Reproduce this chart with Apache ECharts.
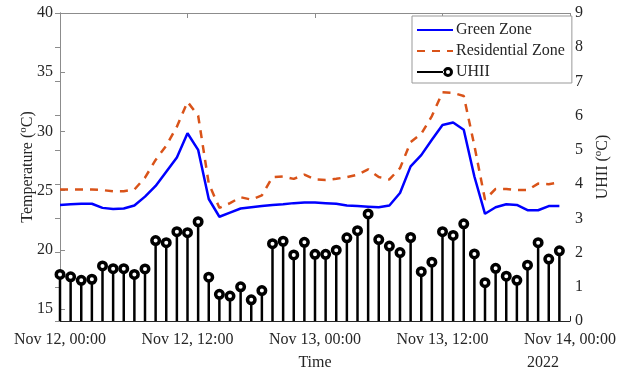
<!DOCTYPE html>
<html>
<head>
<meta charset="utf-8">
<script src="https://cdn.jsdelivr.net/npm/echarts@6/dist/echarts.min.js"></script>
<style>html,body{margin:0;padding:0;background:#fff;}#c{width:627px;height:369px;}</style>
</head>
<body>
<div id="c"></div>
<script>
// Hours from Nov 12, 00:00 (hourly samples)
const hours = Array.from({length: 48}, (_, i) => i);
const greenZone = [23.8,23.85,23.9,23.9,23.55,23.45,23.5,23.75,24.5,25.4,26.6,27.8,29.85,
  28.45,24.3,22.8,23.15,23.5,23.6,23.7,23.8,23.85,23.95,24.0,24.0,
  23.95,23.9,23.75,23.7,23.65,23.6,23.75,24.8,27.05,28.0,29.3,30.55,
  30.75,30.15,26.2,23.05,23.6,23.85,23.8,23.35,23.35,23.7,23.7];
const residentialZone = [25.1,25.1,25.1,25.1,25.05,24.95,24.95,25.1,26.1,27.6,28.8,30.4,32.5,
  31.35,25.6,23.55,23.95,24.45,24.25,24.6,26.15,26.2,26.0,26.35,25.95,
  25.9,26.0,26.15,26.35,26.8,26.15,25.95,26.9,29.1,29.8,31.3,33.3,
  33.25,33.0,28.8,24.25,25.15,25.15,25.05,25.05,25.6,25.55,25.7];
const uhii = [1.36,1.29,1.19,1.22,1.61,1.53,1.53,1.36,1.52,2.35,2.29,2.61,2.58,
  2.90,1.28,0.78,0.73,1.00,0.62,0.89,2.26,2.33,1.93,2.30,1.95,
  1.95,2.07,2.43,2.64,3.13,2.38,2.19,2.00,2.44,1.44,1.72,2.61,
  2.50,2.84,1.96,1.12,1.54,1.31,1.19,1.63,2.29,1.81,2.05];
const xTickLabels = ['Nov 12, 00:00','Nov 12, 12:00','Nov 13, 00:00','Nov 13, 12:00','Nov 14, 00:00'];
const leftTicks = [15,20,25,30,35,40];

const FONT = '"Liberation Serif", "Times New Roman", serif';
const TXT = '#262626';
const AX = '#8c8c8c';

const pair = arr => arr.map((v, i) => [hours[i], v]);
const hiddenSymbol = {color: 'rgba(0,0,0,0)', borderColor: 'rgba(0,0,0,0)', borderWidth: 0, opacity: 0};

const chart = echarts.init(document.getElementById('c'), null, {renderer: 'canvas'});
chart.setOption({
  animation: false,
  backgroundColor: '#fff',
  grid: {left: 60, right: 57, top: 13, bottom: 48, containLabel: false, outerBoundsMode: 'none'},
  legend: {
    orient: 'vertical', left: 412, top: 16,
    padding: [6, 7, 3, 4],
    itemWidth: 36, itemHeight: 10, itemGap: 5,
    backgroundColor: '#fff', borderColor: '#999', borderWidth: 1,
    textStyle: {fontFamily: FONT, fontSize: 16, color: TXT, lineHeight: 16, padding: [0, 0, 0, -2]},
    data: [
      {name: 'Green Zone', itemStyle: hiddenSymbol},
      {name: 'Residential Zone', itemStyle: hiddenSymbol},
      {name: 'UHII', icon: 'path://M0,4 L27,4 L27,6 L0,6 Z M36,5 A5,5 0 1,0 26,5 A5,5 0 1,0 36,5 Z M33,5 A2,2 0 1,1 29,5 A2,2 0 1,1 33,5 Z'}
    ]
  },
  xAxis: [{
    type: 'value', min: 0, max: 48, interval: 12, position: 'bottom',
    name: 'Time', nameLocation: 'middle', nameGap: 34, nameMoveOverlap: false,
    nameTextStyle: {fontFamily: FONT, fontSize: 16, color: TXT},
    axisLine: {show: true, lineStyle: {color: '#262626', width: 1}},
    axisTick: {show: true, inside: true, length: 5, lineStyle: {color: '#262626'}},
    axisLabel: {fontFamily: FONT, fontSize: 16, color: TXT, margin: 11,
      formatter: v => xTickLabels[Math.round(v / 12)] || ''},
    splitLine: {show: false}
  }, {
    type: 'value', min: 0, max: 48, interval: 12, position: 'top',
    axisLine: {show: true, lineStyle: {color: AX, width: 1}},
    axisTick: {show: true, inside: true, length: 5, lineStyle: {color: AX}},
    axisLabel: {show: false}, splitLine: {show: false}
  }],
  yAxis: [{
    type: 'value', min: 14, max: 40, position: 'left',
    name: '{a|Temperature (}{s|o}{a|C)}', nameLocation: 'middle', nameRotate: 90, nameGap: 24,
    nameMoveOverlap: false,
    nameTextStyle: {rich: {
      a: {fontFamily: FONT, fontSize: 16, color: TXT, lineHeight: 18, verticalAlign: 'bottom'},
      s: {fontFamily: FONT, fontSize: 11, color: TXT, lineHeight: 18, verticalAlign: 'top'}
    }},
    axisLine: {show: true, lineStyle: {color: AX, width: 1}},
    axisTick: {show: true, inside: true, length: 5, lineStyle: {color: AX}, customValues: leftTicks},
    axisLabel: {fontFamily: FONT, fontSize: 16, color: TXT, margin: 7, customValues: leftTicks},
    splitLine: {show: false}
  }, {
    type: 'value', min: 0, max: 9, interval: 1, position: 'right',
    name: '{a|UHII (}{s|o}{a|C)}', nameLocation: 'middle', nameRotate: 90, nameGap: 23,
    nameMoveOverlap: false,
    nameTextStyle: {rich: {
      a: {fontFamily: FONT, fontSize: 16, color: TXT, lineHeight: 18, verticalAlign: 'bottom'},
      s: {fontFamily: FONT, fontSize: 11, color: TXT, lineHeight: 18, verticalAlign: 'top'}
    }},
    axisLine: {show: true, lineStyle: {color: AX, width: 1}},
    axisTick: {show: true, inside: true, length: 5, lineStyle: {color: AX}},
    axisLabel: {fontFamily: FONT, fontSize: 16, color: TXT, margin: 5},
    splitLine: {show: false}
  }],
  graphic: [{
    type: 'text', left: 527, top: 355,
    style: {text: '2022', font: '16px ' + FONT, fill: TXT}
  }],
  series: [{
    name: 'UHII', type: 'bar', xAxisIndex: 0, yAxisIndex: 1,
    barWidth: 2.5, itemStyle: {color: '#000'}, data: pair(uhii), z: 2
  }, {
    name: 'UHII', type: 'scatter', xAxisIndex: 0, yAxisIndex: 1,
    symbol: 'circle', symbolSize: 7.5,
    itemStyle: {color: '#fff', borderColor: '#000', borderWidth: 3.5, opacity: 1},
    data: pair(uhii), z: 3
  }, {
    name: 'Green Zone', type: 'line', xAxisIndex: 0, yAxisIndex: 0,
    showSymbol: false, symbol: 'none',
    lineStyle: {color: '#0000ff', width: 2.5}, itemStyle: {color: '#0000ff'},
    data: pair(greenZone), z: 4
  }, {
    name: 'Residential Zone', type: 'line', xAxisIndex: 0, yAxisIndex: 0,
    showSymbol: false, symbol: 'none',
    lineStyle: {color: '#D95319', width: 2.5, type: [8, 7]}, itemStyle: {color: '#D95319'},
    data: pair(residentialZone), z: 4
  }]
});
</script>
</body>
</html>
